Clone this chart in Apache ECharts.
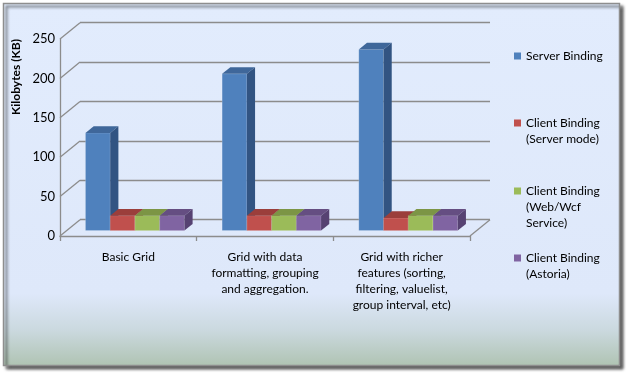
<!DOCTYPE html>
<html>
<head>
<meta charset="utf-8">
<script src="https://cdn.jsdelivr.net/npm/echarts@6/dist/echarts.min.js"></script>
<style>html,body{margin:0;padding:0;background:#fff}#c{width:627px;height:373px}</style>
</head>
<body>
<div id="c"></div>
<script>
// ---- data ----
var categories = [
  'Basic Grid',
  'Grid with data\nformatting, grouping\nand aggregation.',
  'Grid with richer\nfeatures (sorting,\nfiltering, valuelist,\ngroup interval, etc)'
];
var seriesNames = [
  'Server Binding',
  'Client Binding (Server mode)',
  'Client Binding (Web/Wcf Service)',
  'Client Binding (Astoria)'
];
var legendLabels = [
  'Server Binding',
  'Client Binding\n(Server mode)',
  'Client Binding\n(Web/Wcf\nService)',
  'Client Binding\n(Astoria)'
];
var serverBinding = [124, 199, 230];
var clientServerMode = [19, 19, 16];
var clientWebWcf = [19, 19, 19];
var clientAstoria = [19, 19, 19];
var yTicks = [0, 50, 100, 150, 200, 250];

// ---- style ----
var FONT = 'Lato';
var DX = 20, DY = -16.3;          // wall depth offset
var FRONT = 0.33, BDEPTH = 0.41;  // bar depth placement (fraction of wall depth)
var BAR_FRAC = 0.181;             // bar width as fraction of category width
var LINE = '#8c8c8c';
var palettes = [
  {front: '#4F81BD', top: '#3F679A', side: '#325482'},
  {front: '#C0504D', top: '#9B3E3B', side: '#8E3634'},
  {front: '#9BBB59', top: '#7C9545', side: '#6E863B'},
  {front: '#8064A2', top: '#654E82', side: '#564272'}
];
var allValues = [serverBinding, clientServerMode, clientWebWcf, clientAstoria];

function barRenderer(sIdx) {
  var c = palettes[sIdx];
  return function (params, api) {
    var cat = api.value(0), val = api.value(1);
    var base = api.coord([cat, 0]);
    var topP = api.coord([cat, val]);
    var catW = api.size([1, 0])[0];
    var barW = catW * BAR_FRAC;
    var x0 = base[0] - 2 * barW + sIdx * barW + DX * FRONT;
    var yB = base[1] + DY * FRONT;
    var yT = topP[1] + DY * FRONT;
    var dx = DX * BDEPTH, dy = DY * BDEPTH;
    return {
      type: 'group',
      children: [
        {type: 'rect', shape: {x: x0, y: yT, width: barW, height: yB - yT},
         style: {fill: c.front, stroke: 'rgba(255,255,255,0.18)', lineWidth: 1}},
        {type: 'polygon', shape: {points: [[x0, yT], [x0 + dx, yT + dy], [x0 + barW + dx, yT + dy], [x0 + barW, yT]]},
         style: {fill: c.top}},
        {type: 'polygon', shape: {points: [[x0 + barW, yT], [x0 + barW + dx, yT + dy], [x0 + barW + dx, yB + dy], [x0 + barW, yB]]},
         style: {fill: c.side}}
      ]
    };
  };
}

var series = seriesNames.map(function (name, i) {
  return {
    type: 'custom',
    name: name,
    xAxisIndex: 0, yAxisIndex: 0,
    itemStyle: {color: palettes[i].front},
    renderItem: barRenderer(i),
    encode: {x: 0, y: 1},
    data: allValues[i].map(function (v, k) { return [k, v]; }),
    z: 3
  };
});

// left wall diagonals + floor right edge
series.push({
  type: 'custom',
  name: 'walls',
  silent: true,
  xAxisIndex: 0, yAxisIndex: 0,
  encode: {x: 0, y: 1},
  data: yTicks.map(function (v) { return [0, v]; }),
  z: 1,
  renderItem: function (params, api) {
    var v = api.value(1);
    var p = api.coord([0, v]);
    var catW = api.size([1, 0])[0];
    var x = p[0] - catW / 2;
    var ch = [{type: 'line', shape: {x1: x, y1: p[1], x2: x + DX, y2: p[1] + DY},
               style: {stroke: LINE, lineWidth: 1.3}}];
    if (v === 0) {
      var q = api.coord([categories.length - 1, 0]);
      var xr = q[0] + catW / 2;
      ch.push({type: 'line', shape: {x1: xr, y1: q[1], x2: xr + DX, y2: q[1] + DY},
               style: {stroke: LINE, lineWidth: 1.3}});
    }
    return {type: 'group', children: ch};
  }
});

var legendTops = [48, 99, 151, 234];
var legendPad = [0, 1, 2, 1];
var legends = seriesNames.map(function (name, i) {
  return {
    data: [name],
    left: 514, top: legendTops[i],
    orient: 'vertical', padding: 0,
    itemWidth: 7, itemHeight: 7, icon: 'rect',
    selectedMode: false,
    formatter: function () {
      var pad = '';
      for (var k = 0; k < legendPad[i]; k++) pad += '\n';
      return pad + legendLabels[i];
    },
    textStyle: {fontFamily: FONT, fontSize: 12, lineHeight: 16, color: '#000'}
  };
});

var chart = echarts.init(document.getElementById('c'), null, {renderer: 'canvas'});
chart.setOption({
  backgroundColor: '#ffffff',
  animation: false,
  graphic: [
    {type: 'rect', z: -10, shape: {x: 3.5, y: 3.5, width: 616, height: 362},
     style: {
       fill: new echarts.graphic.LinearGradient(0, 0, 0, 1, [
         {offset: 0, color: '#E2ECFD'},
         {offset: 0.8, color: '#DEE8FA'},
         {offset: 0.9, color: '#CBD9DF'},
         {offset: 1, color: '#AFC3B2'}
       ]),
       stroke: '#8e8e8e', lineWidth: 1.5,
       shadowColor: 'rgba(0,0,0,0.65)', shadowBlur: 3, shadowOffsetX: 3, shadowOffsetY: 3
     }},
    {type: 'text', z: 10, x: 16, y: 77, rotation: Math.PI / 2,
     style: {text: 'Kilobytes (KB)', align: 'center', verticalAlign: 'middle',
             font: 'bold 12px ' + FONT, fill: '#000'}}
  ],
  legend: legends,
  grid: [
    {left: 60, right: 157, top: 39, bottom: 137, containLabel: false, outerBoundsMode: 'none'},
    {left: 80, right: 137, top: 22.7, bottom: 153.3, containLabel: false, outerBoundsMode: 'none'}
  ],
  xAxis: [
    {type: 'category', gridIndex: 0, data: categories, boundaryGap: true,
     axisLine: {show: true, lineStyle: {color: LINE, width: 1.3}},
     axisTick: {show: true, length: 5, lineStyle: {color: LINE, width: 1.3}},
     axisLabel: {interval: 0, margin: 13, fontFamily: FONT, fontSize: 12, lineHeight: 16, color: '#000'},
     splitLine: {show: false}},
    {type: 'category', gridIndex: 1, data: categories, show: false}
  ],
  yAxis: [
    {type: 'value', gridIndex: 0, min: 0, max: 250, interval: 50,
     axisLine: {show: true, lineStyle: {color: LINE, width: 1.3}},
     axisTick: {show: false},
     axisLabel: {margin: 5, fontFamily: FONT, fontSize: 13, color: '#000'},
     splitLine: {show: false}},
    {type: 'value', gridIndex: 1, min: 0, max: 250, interval: 50,
     axisLine: {show: false}, axisTick: {show: false}, axisLabel: {show: false},
     splitLine: {show: true, lineStyle: {color: LINE, width: 1.3}}}
  ],
  series: series
});
</script>
</body>
</html>
